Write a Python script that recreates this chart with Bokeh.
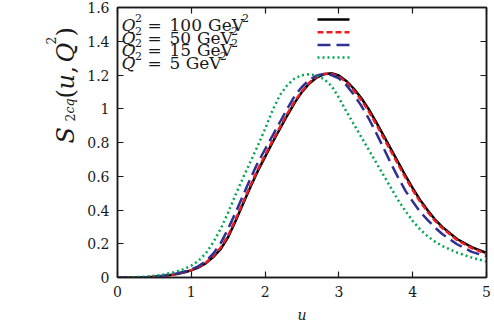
import math
from bokeh.plotting import figure
from bokeh.layouts import row
from bokeh.models import LinearAxis, FixedTicker, Label, Arrow
from bokeh.embed import file_html
from bokeh.resources import INLINE

# ---------------- data ----------------
u = [0.0, 0.2, 0.4, 0.6, 0.8, 0.9, 1.0, 1.1, 1.2, 1.3, 1.4, 1.5, 1.6, 1.7, 1.8, 1.9,
     2.0, 2.1, 2.2, 2.3, 2.4, 2.5, 2.6, 2.7, 2.8, 2.9, 3.0, 3.1, 3.2, 3.3, 3.4, 3.5,
     3.6, 3.7, 3.8, 3.9, 4.0, 4.1, 4.2, 4.3, 4.4, 4.6, 4.8, 5.0]

s_q100 = [0.0, 0.0, 0.002, 0.008, 0.02, 0.03, 0.042, 0.06, 0.085, 0.122, 0.17, 0.24, 0.335,
          0.435, 0.535, 0.63, 0.715, 0.80, 0.88, 0.96, 1.035, 1.10, 1.15, 1.185, 1.205, 1.21,
          1.197, 1.165, 1.12, 1.065, 1.00, 0.925, 0.845, 0.765, 0.685, 0.605, 0.53, 0.46,
          0.40, 0.345, 0.30, 0.228, 0.18, 0.145]
s_q50 = [0.0, 0.0, 0.002, 0.008, 0.021, 0.031, 0.044, 0.063, 0.089, 0.128, 0.178, 0.25, 0.345,
         0.445, 0.545, 0.64, 0.725, 0.81, 0.89, 0.97, 1.043, 1.105, 1.155, 1.19, 1.207, 1.208,
         1.19, 1.158, 1.11, 1.053, 0.988, 0.912, 0.832, 0.752, 0.672, 0.593, 0.518, 0.45,
         0.39, 0.337, 0.293, 0.222, 0.174, 0.14]
s_q15 = [0.0, 0.0, 0.003, 0.01, 0.024, 0.034, 0.047, 0.068, 0.098, 0.143, 0.205, 0.29, 0.385,
         0.485, 0.585, 0.68, 0.76, 0.84, 0.92, 1.00, 1.075, 1.13, 1.172, 1.197, 1.207, 1.20,
         1.18, 1.14, 1.085, 1.02, 0.945, 0.862, 0.772, 0.68, 0.595, 0.515, 0.45, 0.39,
         0.342, 0.297, 0.258, 0.197, 0.152, 0.125]
s_q5 = [0.0, 0.001, 0.005, 0.015, 0.035, 0.05, 0.07, 0.10, 0.145, 0.21, 0.29, 0.385, 0.49,
        0.59, 0.685, 0.78, 0.88, 0.99, 1.08, 1.14, 1.18, 1.198, 1.205, 1.197, 1.175, 1.135,
        1.065, 0.985, 0.91, 0.835, 0.76, 0.685, 0.61, 0.535, 0.46, 0.395, 0.335, 0.285,
        0.245, 0.213, 0.187, 0.148, 0.118, 0.095]

series_values = ["100", "50", "15", "5"]
x_ticks = [0, 1, 2, 3, 4, 5]
x_tick_labels = ["0", "1", "2", "3", "4", "5"]
y_ticks = [0, 0.2, 0.4, 0.6, 0.8, 1, 1.2, 1.4, 1.6]
y_tick_labels = ["0", "0.2", "0.4", "0.6", "0.8", "1", "1.2", "1.4", "1.6"]

# ---------------- layout / styling ----------------
H = 326
LW = 80                      # width of the strip that holds the y-axis title
W = 492 - LW
FL, FR, FT, FB = 117, 486, 7, 277          # frame edges on the page
FONT = "DejaVu Serif"
INK = "#1a1a1a"

p = figure(width=W, height=H, x_range=(0, 5), y_range=(0, 1.6),
           output_backend="svg", toolbar_location=None,
           min_border_left=FL - LW, min_border_right=LW + W - FR, min_border_top=FT,
           min_border_bottom=H - FB)
p.grid.visible = False
p.outline_line_color = INK
p.outline_line_width = 1.5
p.background_fill_color = "white"
p.border_fill_color = "white"


def style_axis(ax, ticks, labels=None, show=True):
    ax.ticker = FixedTicker(ticks=ticks)
    ax.major_tick_in = 6
    ax.major_tick_out = 0
    ax.minor_tick_in = 0
    ax.minor_tick_out = 0
    ax.axis_line_color = INK
    ax.axis_line_width = 1.5
    ax.major_tick_line_color = INK
    ax.major_tick_line_width = 1.2
    ax.major_label_text_font = FONT
    if show:
        ax.major_label_text_color = INK
        ax.major_label_text_font_size = "14px"
        ax.major_label_standoff = 8
        ax.major_label_overrides = {t: l for t, l in zip(ticks, labels)}
    else:
        ax.major_label_text_color = None
        ax.major_label_text_alpha = 0
        ax.major_label_text_font_size = "1px"
        ax.major_label_standoff = 0


style_axis(p.xaxis[0], x_ticks, x_tick_labels)
style_axis(p.yaxis[0], y_ticks, y_tick_labels)
p.xaxis[0].axis_label = "u"
p.xaxis[0].axis_label_text_font = FONT
p.xaxis[0].axis_label_text_font_style = "italic"
p.xaxis[0].axis_label_text_font_size = "14px"
p.xaxis[0].axis_label_text_color = INK
p.xaxis[0].axis_label_standoff = 7

top_ax = LinearAxis()
right_ax = LinearAxis()
style_axis(top_ax, x_ticks, show=False)
style_axis(right_ax, y_ticks, show=False)
p.add_layout(top_ax, "above")
p.add_layout(right_ax, "right")

colors = ["#000000", "#ed1c24", "#2e3192", "#00a651"]
dashes = ["solid", "6 3", "13 6", "2 3"]
curves = [s_q100, s_q50, s_q15, s_q5]
for ys, c, d in zip(curves, colors, dashes):
    p.line(u, ys, line_color=c, line_width=2.5, line_dash=d)


def add_text(fig, txt, sx, sy, size, style="normal", angle=0.0, align="left"):
    fig.add_layout(Label(x=sx, y=sy, x_units="screen", y_units="screen",
                         text=txt, text_font=FONT, text_font_size=f"{size}px",
                         text_font_style=style, text_color=INK, angle=angle,
                         text_align=align, text_baseline="alphabetic"))


# main plot: page -> frame-relative screen coords (y up)
def mt(txt, px, py, size, style="normal"):
    add_text(p, txt, px - FL, FB - py, size, style)


# legend: text on the left, line sample on the right
for i, (val, c, d) in enumerate(zip(series_values, colors, dashes)):
    base = 24.5 + 12.7 * i
    mt("Q", 121, base, 17, "italic")
    mt("2", 134.5, base - 7, 11)
    mt("=", 147, base, 17)
    mt(val, 169, base, 17)
    gx = 169 + 11.2 * len(val) + 5
    mt("GeV", gx, base, 17)
    mt("2", gx + 34, base - 7, 11)
    ly = base - 5.5
    p.add_layout(Arrow(end=None, x_start=317 - FL, y_start=FB - ly,
                       x_end=349 - FL, y_end=FB - ly,
                       start_units="screen", end_units="screen",
                       line_color=c, line_width=2.5, line_dash=d))

# left strip with the y-axis title  S_{2cq}(u, Q^2)
lab = figure(width=LW, height=H, x_range=(0, 1), y_range=(0, 1),
             output_backend="svg", toolbar_location=None,
             x_axis_type=None, y_axis_type=None, min_border=0)
lab.grid.visible = False
lab.outline_line_color = None
lab.background_fill_color = "white"
lab.border_fill_color = "white"


def lt(txt, px, py, size, style="normal"):
    add_text(lab, txt, px, H - py, size, style, math.pi / 2)


lt("S", 65, 192, 24, "italic")
lt("2", 69, 170, 12.5)
lt("cq", 69, 162, 12.5, "italic")
lt("(", 65, 147, 24)
lt("u", 65, 138, 24, "italic")
lt(",", 65, 122, 24)
lt("Q", 65, 111, 24, "italic")
lt("2", 50, 93, 12.5)
lt(")", 65, 85, 24)

layout = row(lab, p)
open("out.html", "w").write(file_html(layout, INLINE))
